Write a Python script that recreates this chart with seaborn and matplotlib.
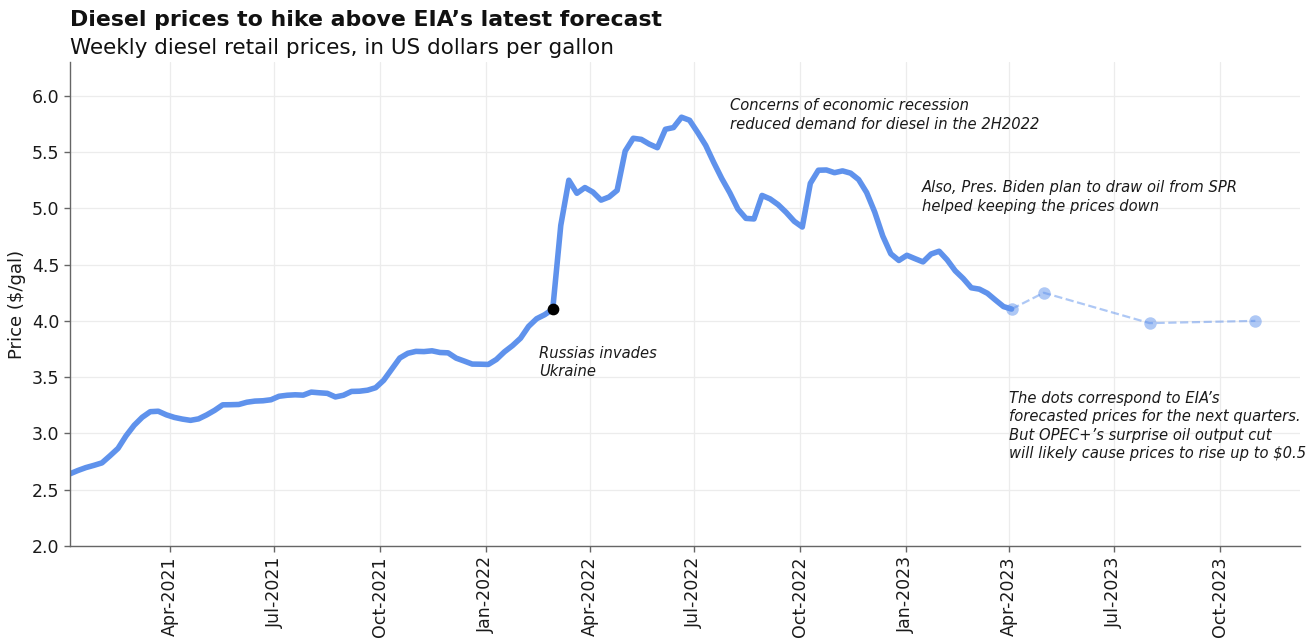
import pandas as pd
import matplotlib.pyplot as plt
import matplotlib.dates as mdates
import seaborn as sns

# weekly US diesel retail price, $/gal, every Monday from 2021-01-04 to 2023-04-03
first_week = "2021-01-04"
prices = [
    # 2021
    2.640, 2.670, 2.696, 2.716,
    2.738, 2.801, 2.867, 2.979,
    3.072, 3.143, 3.193, 3.197, 3.165,
    3.142, 3.127, 3.116, 3.129,
    3.164, 3.205, 3.254, 3.255, 3.257,
    3.277, 3.287, 3.290, 3.299,
    3.330, 3.339, 3.343, 3.340,
    3.367, 3.361, 3.356, 3.324, 3.339,
    3.373, 3.375, 3.384, 3.406,
    3.472, 3.571, 3.670, 3.712,
    3.729, 3.727, 3.734, 3.719, 3.716,
    3.669, 3.643, 3.616, 3.615,
    # 2022
    3.613, 3.657, 3.725, 3.780, 3.846,
    3.951, 4.019, 4.055, 4.104,
    4.849, 5.250, 5.134, 5.185,
    5.144, 5.073, 5.101, 5.160,
    5.509, 5.623, 5.613, 5.571, 5.539,
    5.703, 5.718, 5.810, 5.783,
    5.675, 5.560, 5.408, 5.265,
    5.138, 4.994, 4.911, 4.906, 5.115,
    5.084, 5.033, 4.964, 4.885,
    4.834, 5.222, 5.339, 5.341, 5.317,
    5.333, 5.313, 5.256, 5.140,
    4.967, 4.754, 4.596, 4.537,
    # 2023
    4.583, 4.553, 4.524, 4.594, 4.619,
    4.542, 4.445, 4.376, 4.294,
    4.282, 4.245, 4.185, 4.127,
    4.105,
]

# EIA forecast dots (first one is the last observed week)
forecast_dates = ["2023-04-03", "2023-05-01", "2023-08-01", "2023-11-01"]
forecast_prices = [4.105, 4.25, 3.98, 4.00]

invasion_date = "2022-02-28"
invasion_price = 4.104

title = "Diesel prices to hike above EIA\u2019s latest forecast"
subtitle = "Weekly diesel retail prices, in US dollars per gallon"

sns.set_theme(style="whitegrid")
plt.rcParams['font.family'] = ['DejaVu Sans']

weekly = pd.DataFrame({
    "date": pd.date_range(first_week, periods=len(prices), freq="W-MON"),
    "price": prices})
forecast = pd.DataFrame({"date": pd.to_datetime(forecast_dates),
                         "price": forecast_prices})

fig, ax = plt.subplots(figsize=(13.16, 6.4), dpi=100)
fig.subplots_adjust(left=0.053, right=0.988, top=0.903, bottom=0.147)

line_col = "#5f92ec"
sns.lineplot(data=weekly, x="date", y="price", color=line_col, lw=4, ax=ax)
sns.lineplot(data=forecast, x="date", y="price", color=line_col, alpha=0.5,
             ls="--", lw=1.6, marker="o", markersize=9, markeredgewidth=0, ax=ax)
ax.scatter(pd.to_datetime(invasion_date), invasion_price, color="black", s=55, zorder=5)

# annotations
note_kw = dict(fontsize=10.6, style="italic", color="#1a1a1a", va="top", ha="left",
               linespacing=1.3)
ax.text(pd.Timestamp("2022-02-16"), 3.78, "Russias invades\nUkraine", **note_kw)
ax.text(pd.Timestamp("2022-08-01"), 5.98,
        "Concerns of economic recession\nreduced demand for diesel in the 2H2022", **note_kw)
ax.text(pd.Timestamp("2023-01-15"), 5.25,
        "Also, Pres. Biden plan to draw oil from SPR\nhelped keeping the prices down", **note_kw)
ax.text(pd.Timestamp("2023-04-01"), 3.38,
        "The dots correspond to EIA\u2019s\nforecasted prices for the next quarters.\n"
        "But OPEC+\u2019s surprise oil output cut\nwill likely cause prices to rise up to $0.5",
        **note_kw)

# axes
ax.set_xlim(pd.Timestamp("2021-01-04"), pd.Timestamp("2023-12-10"))
ax.set_ylim(2.0, 6.3)
ax.set_yticks([2.0, 2.5, 3.0, 3.5, 4.0, 4.5, 5.0, 5.5, 6.0])
ax.yaxis.set_major_formatter(plt.FormatStrFormatter("%.1f"))
ax.xaxis.set_major_locator(mdates.MonthLocator(bymonth=[1, 4, 7, 10]))
ax.xaxis.set_major_formatter(mdates.DateFormatter("%b-%Y"))
plt.setp(ax.get_xticklabels(), rotation=90)
ax.tick_params(axis="both", labelsize=12.5, colors="#1a1a1a", bottom=True, left=True,
               length=4, width=1)
ax.tick_params(axis="both", color="#666666")
ax.set_xlabel("")
ax.set_ylabel("Price ($/gal)", fontsize=13, color="#1a1a1a")

ax.grid(True, color="#ececec", lw=0.9)
for side in ["top", "right"]:
    ax.spines[side].set_visible(False)
for side in ["left", "bottom"]:
    ax.spines[side].set_color("#666666")
    ax.spines[side].set_linewidth(1)

fig.text(70 / 1316, 1 - 20 / 640, title, fontsize=15.8, weight="bold", va="center",
         ha="left", color="#111111")
fig.text(70 / 1316, 1 - 48 / 640, subtitle, fontsize=15.5, va="center", ha="left",
         color="#111111")

fig.savefig("out.png", dpi=100)
